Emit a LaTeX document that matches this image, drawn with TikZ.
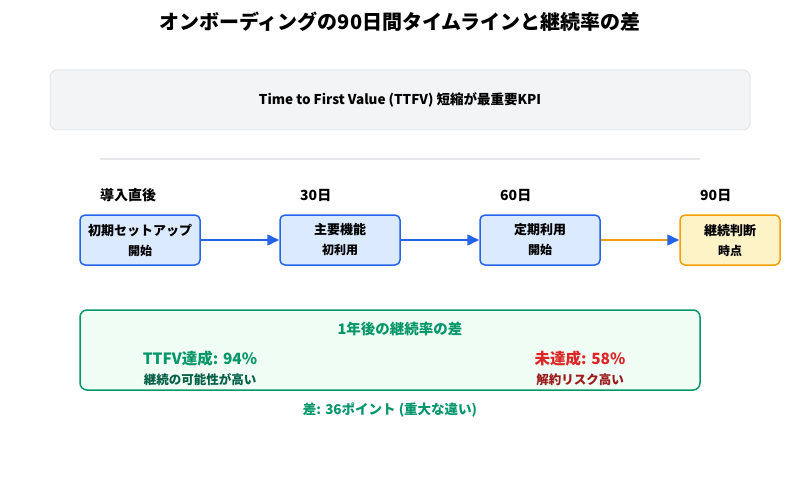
\documentclass[tikz,border=0pt]{standalone}
\usepackage{fontspec}
\setmainfont{Noto Sans CJK JP}
\usetikzlibrary{arrows.meta}
\definecolor{stepblue}{HTML}{2563EB}
\definecolor{stepbluebg}{HTML}{DBEAFE}
\definecolor{goalorange}{HTML}{F59E0B}
\definecolor{goalbg}{HTML}{FEF3C7}
\definecolor{kpigray}{HTML}{F3F4F6}
\definecolor{kpiline}{HTML}{E5E7EB}
\definecolor{retgreen}{HTML}{059669}
\definecolor{retbg}{HTML}{F0FDF4}
\definecolor{retdark}{HTML}{065F46}
\definecolor{lossred}{HTML}{DC2626}
\definecolor{lossdark}{HTML}{991B1B}
\tikzset{
  stage/.style={draw=stepblue,fill=stepbluebg,line width=1.5pt,rounded corners=5pt,
    minimum width=120pt,minimum height=50pt,inner sep=0pt,align=center,
    font=\bfseries\fontsize{12}{20}\selectfont},
  goal/.style={stage,draw=goalorange,fill=goalbg,minimum width=100pt},
  daylabel/.style={anchor=west,inner sep=0pt,font=\bfseries\fontsize{14}{16}\selectfont},
  flow/.style={line width=1.5pt,draw=stepblue,-{Triangle[length=12pt,width=11pt,color=stepblue]}}
}
\newcommand{\stagehead}[1]{{\fontsize{13}{15}\selectfont #1}}
\begin{document}
\begin{tikzpicture}[x=1pt,y=-1pt]
  \useasboundingbox (0,0) rectangle (800,500);
  \node[font=\bfseries\fontsize{20}{24}\selectfont] (title) at (400,22)
    {オンボーディングの90日間タイムラインと継続率の差};

  % KPI banner
  \node[draw=kpiline,fill=kpigray,line width=1pt,rounded corners=7pt,
    minimum width=700pt,minimum height=60pt,
    font=\bfseries\fontsize{13.5}{16}\selectfont] (kpi) at (400,100)
    {Time to First Value (TTFV) 短縮が最重要KPI};
  \draw[kpiline,line width=1.5pt] (100,159) -- (700,159);

  % timeline
  \node[daylabel] (d0) at (100,195) {導入直後};
  \node[daylabel] (d30) at (300,195) {30日};
  \node[daylabel] (d60) at (500,195) {60日};
  \node[daylabel] (d90) at (700,195) {90日};

  \node[stage] (setup) at (140,240) {\stagehead{初期セットアップ}\\開始};
  \node[stage] (core) at (340,240) {\stagehead{主要機能}\\初利用};
  \node[stage] (habit) at (540,240) {\stagehead{定期利用}\\開始};
  \node[goal] (judge) at (730,240) {\stagehead{継続判断}\\時点};

  \draw[flow] (setup) -- (core);
  \draw[flow] (core) -- (habit);
  \draw[flow,draw=goalorange] (habit) -- (judge);

  % retention gap
  \node[draw=retgreen,fill=retbg,line width=1.5pt,rounded corners=7pt,
    minimum width=620pt,minimum height=80pt] (gap) at (390,350) {};
  \node[text=retgreen,font=\bfseries\fontsize{14.5}{17}\selectfont] (gaptitle) at (400,329) {1年後の継続率の差};
  \node[text=retgreen,font=\bfseries\fontsize{15.5}{18}\selectfont] (hit) at (200,359) {TTFV達成: 94\%};
  \node[text=retdark,font=\bfseries\fontsize{12.5}{15}\selectfont] (hitnote) at (200,380) {継続の可能性が高い};
  \node[text=lossred,font=\bfseries\fontsize{15.5}{18}\selectfont] (miss) at (580,359) {未達成: 58\%};
  \node[text=lossdark,font=\bfseries\fontsize{12.5}{15}\selectfont] (missnote) at (580,380) {解約リスク高い};
  \node[text=retgreen,font=\bfseries\fontsize{13.5}{16}\selectfont] (diff) at (390,410) {差: 36ポイント (重大な違い)};
\end{tikzpicture}
\end{document}
